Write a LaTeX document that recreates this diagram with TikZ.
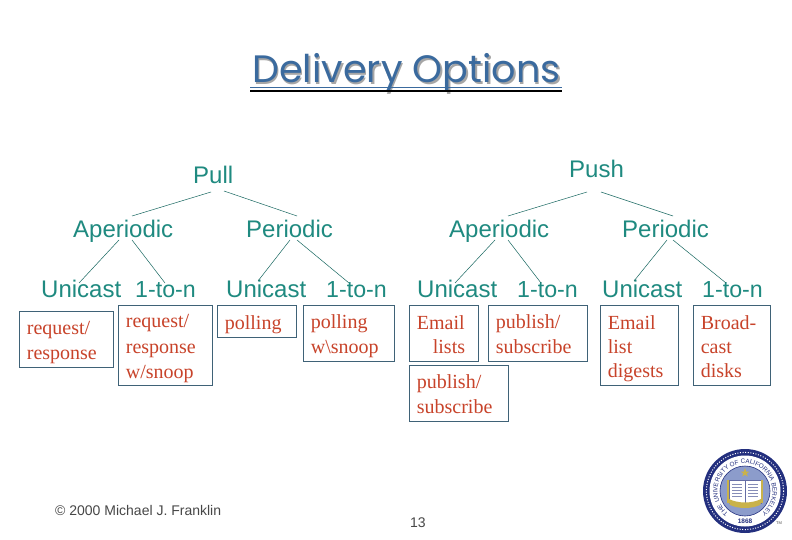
\documentclass[tikz,border=0pt]{standalone}
\usepackage{fontspec}
\usetikzlibrary{decorations.text}
\setmainfont{Liberation Serif}
\newfontfamily\arialf{Liberation Sans}
\newfontfamily\titlef{Poppins}
\definecolor{tealc}{HTML}{1F8A80}
\definecolor{redc}{HTML}{C8432A}
\definecolor{edgec}{HTML}{3F6277}
\definecolor{titlec}{HTML}{3A6A9E}
\definecolor{sealblue}{HTML}{232F7E}
\definecolor{sealmid}{HTML}{8C9CCB}
\definecolor{sealgold}{HTML}{C9B24A}
\newcommand{\st}{\rule[-4pt]{0pt}{24pt}}
\tikzset{
  x=1pt,y=-1pt,
  head/.style={font=\arialf\fontsize{24}{28}\selectfont,text=tealc,inner sep=0pt,anchor=base west},
  ton/.style={head,font=\arialf\fontsize{23.2}{28}\selectfont},
  leaf/.style 2 args={draw=edgec,line width=0.7pt,font=\fontsize{20}{24}\selectfont,text=redc,
    anchor=north west,align=left,inner ysep=0pt,inner xsep=7.5pt,
    text width=#1pt-15.7pt,minimum height=#2pt},
  tree/.style={draw=tealc!75!black,line width=0.5pt},
  foot/.style={text=black!72,inner sep=0pt,anchor=base west},
  titletext/.style={font=\titlef\fontsize{38.2}{44}\selectfont,inner sep=0pt,anchor=base west},
}
\begin{document}
\begin{tikzpicture}
\useasboundingbox (0,0) rectangle (792,540);
\fill[white] (0,0) rectangle (792,540);
% title
\node[titletext,text=black!35] at (253.5,84.5) {Delivery Options};
\node[titletext,text=titlec] (title) at (252,83) {Delivery Options};
\coordinate (ulA) at (250,90.7);
\coordinate (ulB) at (562,90.7);
\draw[titlec,line width=1pt] ([yshift=3pt]ulA) -- ([yshift=3pt]ulB);
\draw[black,line width=1.8pt] (ulA) -- (ulB);
% heads
\node[head] (pull) at (193,184) {Pull};
\node[head] (push) at (569,177.5) {Push};
\node[head] (ap1) at (73,237) {Aperiodic};
\node[head] (pe1) at (246,237) {Periodic};
\node[head] (ap2) at (449,237) {Aperiodic};
\node[head] (pe2) at (622,237) {Periodic};
\node[head] (u1) at (41,297) {Unicast};
\node[ton] (o1) at (135,297) {1-to-n};
\node[head] (u2) at (226,297) {Unicast};
\node[ton] (o2) at (326,297) {1-to-n};
\node[head] (u3) at (417,297) {Unicast};
\node[ton] (o3) at (517,297) {1-to-n};
\node[head] (u4) at (602,297) {Unicast};
\node[ton] (o4) at (702,297) {1-to-n};
% connectors
\foreach \n/\a/\b/\c/\d in {
  pa/211/192/132/216, pb/224/191/297/216,
  qa/119/240/79/283, qb/132/240/165/283,
  ra/290/240/258/281, rb/297/240/349/283,
  sa/587/192/508/216, sb/601/192/673/216,
  ta/495/240/455/283, tb/508/240/541/283,
  va/667/240/634/281, vb/673/240/726/283}{
  \coordinate (\n s) at (\a,\b);
  \coordinate (\n e) at (\c,\d);
  \draw[tree] (\n s) -- (\n e);
}
% boxes
\node[leaf={95}{56}] (b1) at (19,311) {\st request/\\\st response};
\node[leaf={95}{80}] (b2) at (118,305) {\st request/\\\st response\\\st w/snoop};
\node[leaf={80}{32}] (b3) at (217,305) {\st polling};
\node[leaf={92}{56}] (b4) at (303,305) {\st polling\\\st w\textbackslash snoop};
\node[leaf={70}{56}] (b5) at (409,305) {\st Email\\\st\hspace*{16pt}lists};
\node[leaf={100}{56}] (b6) at (488,305) {\st publish/\\\st subscribe};
\node[leaf={100}{56}] (b7) at (409,365) {\st publish/\\\st subscribe};
\node[leaf={79}{80}] (b8) at (600,305) {\st Email\\\st list\\\st digests};
\node[leaf={78}{80}] (b9) at (693,305) {\st Broad-\\\st cast\\\st disks};
% footer
\node[foot,font=\arialf\fontsize{14}{16}\selectfont] (cr) at (55,515) {© 2000 Michael J. Franklin};
\node[foot,font=\arialf\fontsize{14}{16}\selectfont] (pg) at (410,527) {13};
% seal
\begin{scope}[shift={(745,491)}]
  \fill[sealblue] (0,0) circle (42);
  \draw[white,line width=1pt,dash pattern=on 1pt off 1.6pt] (0,0) circle (38.6);
  \fill[white] (0,0) circle (35.5);
  \path[postaction={decorate,decoration={text along path,
     text={|\arialf\fontsize{6.3}{7}\selectfont\color{sealblue}|THE UNIVERSITY OF CALIFORNIA BERKELEY},
     text align=center}}]
     (126:27.5) arc[start angle=126,end angle=414,radius=27.5];
  \fill[sealmid,draw=sealblue,line width=0.6pt] (0,0) circle (25);
  \fill[white,draw=sealblue!70,line width=0.5pt] (-16,-11) rectangle (0,12);
  \fill[white,draw=sealblue!70,line width=0.5pt] (0,-11) rectangle (16,12);
  \fill[sealgold] (-18,-11) rectangle (-16,12);
  \fill[sealgold] (16,-11) rectangle (18,12);
  \foreach \yy in {-7,-4,-1,2,5}{
    \draw[sealblue!55,line width=0.4pt] (-13,\yy) -- (-3,\yy);
    \draw[sealblue!55,line width=0.4pt] (3,\yy) -- (13,\yy);
  }
  \fill[sealgold] (0,-23) -- (1.2,-19.5) -- (4.5,-19.5) -- (1.8,-17.5) -- (2.8,-14.5) -- (0,-16.3) -- (-2.8,-14.5) -- (-1.8,-17.5) -- (-4.5,-19.5) -- (-1.2,-19.5) -- cycle;
  \fill[sealgold] (-18,7) .. controls (-8,13) and (8,13) .. (18,7) -- (15,14) .. controls (6,18) and (-6,18) .. (-15,14) -- cycle;
  \node[inner sep=0pt,text=sealblue,font=\arialf\bfseries\fontsize{6.5}{7}\selectfont] (yr) at (0,30.5) {1868};
\end{scope}
\node[inner sep=0pt,text=black!70,font=\arialf\fontsize{4}{5}\selectfont] (tm) at (779,523) {TM};
\end{tikzpicture}
\end{document}
